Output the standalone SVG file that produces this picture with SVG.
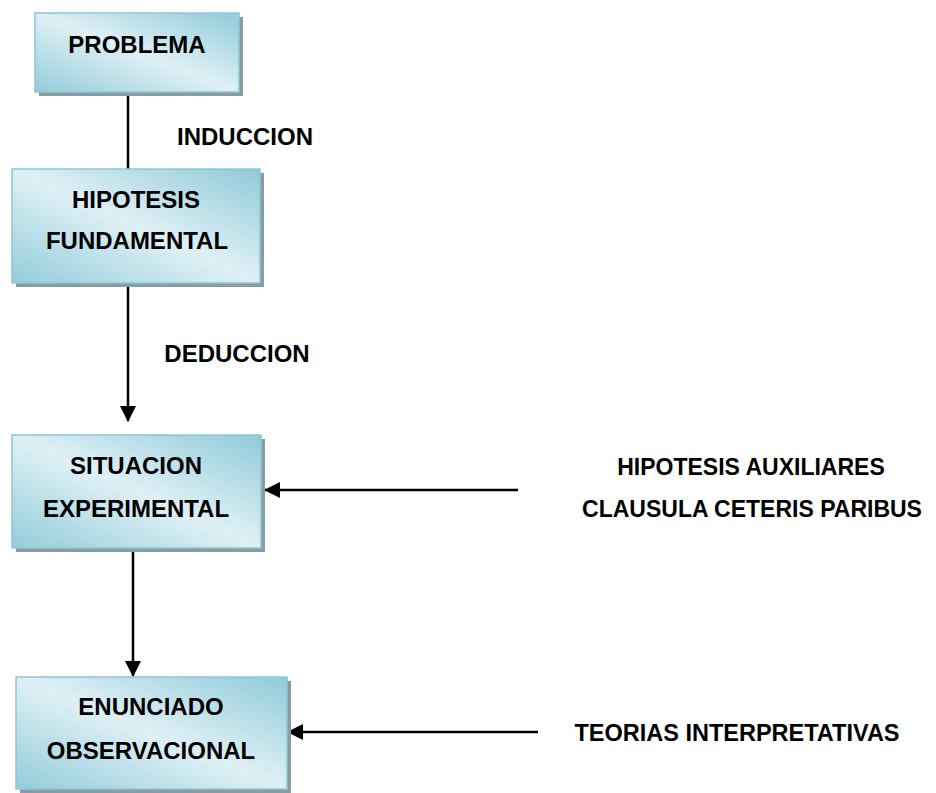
<svg xmlns="http://www.w3.org/2000/svg" width="936" height="793" viewBox="0 0 936 793">
<defs>
<linearGradient id="bg" x1="1" y1="0" x2="0" y2="1">
<stop offset="0" stop-color="#8fcad9"/>
<stop offset="0.5" stop-color="#dff0f5"/>
<stop offset="1" stop-color="#93ccda"/>
</linearGradient>
<marker id="ah" markerWidth="16" markerHeight="16" viewBox="0 0 16 16" refX="15" refY="8" orient="auto" markerUnits="userSpaceOnUse">
<path d="M0,0 L16,8 L0,16 z" fill="#000"/>
</marker>
<style>
.box{fill:url(#bg);stroke:#8cc8d6;stroke-width:1.5}
.sh{fill:#8a9ca3}
.t{font-family:"Liberation Sans",Arial,sans-serif;font-weight:bold;font-size:24px;fill:#000;text-anchor:middle}
.r{font-size:23px}
.ln{stroke:#000;stroke-width:2.5;fill:none}
</style>
</defs>
<rect width="936" height="793" fill="#fff"/>
<g id="connectors">
<line class="ln" x1="128" y1="95" x2="128" y2="169"/>
<line class="ln" x1="128" y1="287" x2="128" y2="421" marker-end="url(#ah)"/>
<line class="ln" x1="133" y1="552" x2="133" y2="676" marker-end="url(#ah)"/>
<line class="ln" x1="518" y1="490" x2="265" y2="490" marker-end="url(#ah)"/>
<line class="ln" x1="538" y1="732" x2="288" y2="732" marker-end="url(#ah)"/>
</g>
<g id="problema">
<rect class="sh" x="39" y="17" width="204" height="79"/>
<rect class="box" x="35" y="13" width="204" height="79"/>
<text class="t" x="137" y="53">PROBLEMA</text>
</g>
<g id="hipotesis-fundamental">
<rect class="sh" x="16" y="173" width="248" height="114"/>
<rect class="box" x="12" y="169" width="248" height="114"/>
<text class="t" x="136" y="208">HIPOTESIS</text>
<text class="t" x="137" y="249">FUNDAMENTAL</text>
</g>
<g id="situacion-experimental">
<rect class="sh" x="16" y="439" width="249" height="113"/>
<rect class="box" x="12" y="435" width="249" height="113"/>
<text class="t" x="136" y="474">SITUACION</text>
<text class="t" x="136" y="517">EXPERIMENTAL</text>
</g>
<g id="enunciado-observacional">
<rect class="sh" x="20" y="681" width="271" height="112"/>
<rect class="box" x="16" y="677" width="271" height="112"/>
<text class="t" x="151" y="715">ENUNCIADO</text>
<text class="t" x="151" y="759">OBSERVACIONAL</text>
</g>
<g id="labels">
<text class="t" x="245" y="145">INDUCCION</text>
<text class="t" x="237" y="362">DEDUCCION</text>
<text class="t r" x="751" y="475">HIPOTESIS AUXILIARES</text>
<text class="t r" x="752" y="517">CLAUSULA CETERIS PARIBUS</text>
<text class="t" x="737" y="741" style="font-size:23.5px">TEORIAS INTERPRETATIVAS</text>
</g>
</svg>
